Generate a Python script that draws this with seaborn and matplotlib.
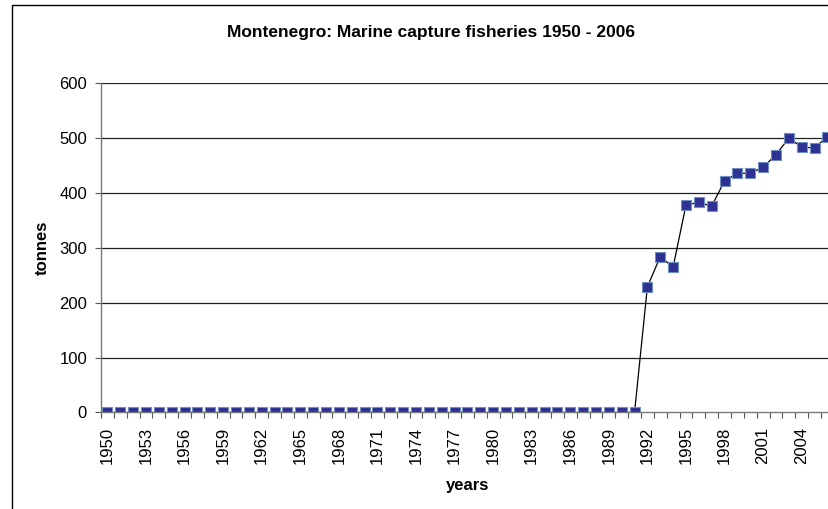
import pandas as pd
import seaborn as sns
import matplotlib.pyplot as plt
from matplotlib.patches import Rectangle

years = list(range(1950, 2007))
tonnes = [0] * 42 + [229, 284, 265, 378, 383, 376, 422, 436, 436, 447,
                     470, 500, 484, 482, 503]
tick_years = list(range(1950, 2007, 3))

df = pd.DataFrame({"year": years, "tonnes": tonnes})

sns.set_style("white")
plt.rcParams["font.family"] = ["Liberation Sans", "DejaVu Sans"]
plt.rcParams["text.color"] = "black"
plt.rcParams["axes.labelcolor"] = "black"
plt.rcParams["xtick.labelcolor"] = "black"
plt.rcParams["ytick.labelcolor"] = "black"

fig = plt.figure(figsize=(8.29, 5.09), dpi=100)
ax = fig.add_axes([0.1218, 0.1896, 0.8840, 0.6467])

# outer chart frame (cut off on the right and bottom like the source)
fig.patches.append(Rectangle((12.5 / 829, -0.1), 1.2, 1.1 - 5.5 / 509,
                             transform=fig.transFigure, fill=False,
                             edgecolor="black", lw=1.0))

for v in range(100, 700, 100):
    ax.axhline(v, color="#222222", lw=0.9, zorder=0)

sns.lineplot(data=df, x="year", y="tonnes", ax=ax, color="black", lw=0.9,
             marker="s", markersize=6.5, markerfacecolor="#2e3192",
             markeredgecolor="#6f8fc0", markeredgewidth=0.8)

ax.set_xlim(1949.5, 2006.5)
ax.set_ylim(0, 600)
ax.set_yticks(range(0, 700, 100))
ax.set_xticks(tick_years)
ax.set_xticklabels([str(y) for y in tick_years], rotation=90, fontsize=12)
ax.set_xticks([y + 0.5 for y in years[:-1]] + [1949.5], minor=True)
ax.tick_params(axis="x", which="major", length=0, pad=10)
ax.tick_params(axis="x", which="minor", length=4, width=0.8, color="#555555",
               direction="out", bottom=True)
ax.tick_params(axis="y", which="major", length=4, width=0.8, color="#555555",
               direction="out", left=True, labelsize=12, pad=6)

for s in ["top", "right"]:
    ax.spines[s].set_visible(False)
for s in ["left", "bottom"]:
    ax.spines[s].set_color("#777777")
    ax.spines[s].set_linewidth(1.0)

ax.set_xlabel("years", fontsize=12, fontweight="bold", labelpad=10)
ax.set_ylabel("tonnes", fontsize=12, fontweight="bold", labelpad=7)
fig.text(431 / 829, 1 - 32 / 509, "Montenegro: Marine capture fisheries 1950 - 2006",
         ha="center", va="center", fontsize=12.5, fontweight="bold")

fig.savefig("out.png", dpi=100)
